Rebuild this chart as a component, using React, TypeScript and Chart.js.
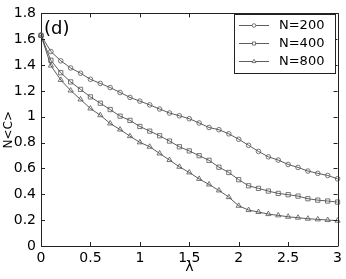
import React, { useEffect, useRef } from "react";
import { Chart, registerables } from "chart.js";
import { drawPoint } from "chart.js/helpers";

Chart.register(...registerables);

const lambda = [0, 0.1, 0.2, 0.3, 0.4, 0.5, 0.6, 0.7, 0.8, 0.9, 1.0, 1.1, 1.2, 1.3, 1.4, 1.5, 1.6, 1.7, 1.8, 1.9, 2.0, 2.1, 2.2, 2.3, 2.4, 2.5, 2.6, 2.7, 2.8, 2.9, 3.0];

const n200 = [1.63, 1.505, 1.433, 1.378, 1.337, 1.29, 1.258, 1.226, 1.188, 1.15, 1.121, 1.092, 1.06, 1.029, 1.008, 0.985, 0.952, 0.917, 0.9, 0.868, 0.826, 0.779, 0.732, 0.69, 0.665, 0.631, 0.608, 0.58, 0.562, 0.546, 0.52];
const n400 = [1.63, 1.437, 1.341, 1.27, 1.212, 1.154, 1.105, 1.056, 1.005, 0.972, 0.925, 0.889, 0.853, 0.812, 0.768, 0.736, 0.699, 0.663, 0.61, 0.569, 0.513, 0.466, 0.446, 0.425, 0.407, 0.397, 0.386, 0.366, 0.355, 0.348, 0.34];
const n800 = [1.63, 1.396, 1.285, 1.203, 1.134, 1.064, 1.012, 0.948, 0.901, 0.85, 0.802, 0.768, 0.716, 0.665, 0.613, 0.569, 0.519, 0.476, 0.43, 0.378, 0.311, 0.278, 0.263, 0.247, 0.237, 0.226, 0.219, 0.211, 0.206, 0.201, 0.196];

const seriesLabels = ["N=200", "N=400", "N=800"];
const xTicks = [0, 0.5, 1, 1.5, 2, 2.5, 3];
const xTickLabels = ["0", "0.5", "1", "1.5", "2", "2.5", "3"];
const yTicks = [0, 0.2, 0.4, 0.6, 0.8, 1, 1.2, 1.4, 1.6, 1.8];
const yTickLabels = ["0", "0.2", "0.4", "0.6", "0.8", "1", "1.2", "1.4", "1.6", "1.8"];
const panelLabel = "(d)";
const xTitle = "λ";
const yTitle = "N<C>";

const FONT = "'DejaVu Sans', sans-serif";
const LINE = "#333333";
const MARK = "#555555";
const AXIS = "#222222";

const decorPlugin = {
  id: "decor",
  afterDraw(chart: any) {
    const { ctx, chartArea } = chart;
    const xs = chart.scales.x;
    const ys = chart.scales.y;
    const { left, right, top, bottom } = chartArea;
    ctx.save();
    ctx.strokeStyle = AXIS;
    ctx.lineWidth = 1;
    ctx.beginPath();
    ctx.moveTo(Math.round(left) + 0.5, Math.round(top) + 0.5);
    ctx.lineTo(Math.round(right) + 0.5, Math.round(top) + 0.5);
    ctx.lineTo(Math.round(right) + 0.5, Math.round(bottom) + 0.5);
    ctx.stroke();
    const tl = 4;
    ctx.beginPath();
    xTicks.forEach((v) => {
      const px = Math.round(xs.getPixelForValue(v)) + 0.5;
      ctx.moveTo(px, bottom);
      ctx.lineTo(px, bottom - tl);
      ctx.moveTo(px, top);
      ctx.lineTo(px, top + tl);
    });
    yTicks.forEach((v) => {
      const py = Math.round(ys.getPixelForValue(v)) + 0.5;
      ctx.moveTo(left, py);
      ctx.lineTo(left + tl, py);
      ctx.moveTo(right, py);
      ctx.lineTo(right - tl, py);
    });
    ctx.stroke();

    ctx.fillStyle = "#000";
    ctx.font = `18px ${FONT}`;
    ctx.textAlign = "left";
    ctx.textBaseline = "alphabetic";
    ctx.fillText(panelLabel, left + 3, top + 21);

    const bx = 234.5, by = 14.5, bw = 101, bh = 59;
    ctx.fillStyle = "#fff";
    ctx.fillRect(bx, by, bw, bh);
    ctx.strokeStyle = AXIS;
    ctx.lineWidth = 1;
    ctx.strokeRect(bx, by, bw, bh);
    const rowsY = [25.5, 43.5, 61.5];
    chart.data.datasets.forEach((ds: any, i: number) => {
      const y = rowsY[i];
      ctx.strokeStyle = LINE;
      ctx.lineWidth = 0.8;
      ctx.beginPath();
      ctx.moveTo(239, y);
      ctx.lineTo(269, y);
      ctx.stroke();
      ctx.fillStyle = "#fff";
      ctx.strokeStyle = MARK;
      ctx.lineWidth = 0.8;
      drawPoint(ctx, { pointStyle: ds.pointStyle, radius: ds.pointStyle === "circle" ? 1.8 : 2.2, borderWidth: 0.8, rotation: 0 } as any, 254, y);
      ctx.fillStyle = "#000";
      ctx.font = `13px ${FONT}`;
      ctx.textAlign = "left";
      ctx.textBaseline = "middle";
      ctx.fillText(ds.label, 279, y);
    });
    ctx.restore();
  },
};

export default function App() {
  const ref = useRef<HTMLCanvasElement | null>(null);
  useEffect(() => {
    if (!ref.current) return;
    const mk = (label: string, vals: number[], style: string, r: number) => ({
      label,
      data: lambda.map((x, i) => ({ x, y: vals[i] })),
      borderColor: LINE,
      borderWidth: 0.8,
      pointStyle: style,
      pointRadius: r,
      pointBorderColor: MARK,
      pointBackgroundColor: "rgba(255,255,255,0)",
      pointBorderWidth: 0.8,
      tension: 0,
      fill: false,
      clip: false as any,
    });
    const chart = new Chart(ref.current, {
      type: "line",
      data: {
        datasets: [
          mk(seriesLabels[0], n200, "circle", 2.3),
          mk(seriesLabels[1], n400, "rect", 3),
          mk(seriesLabels[2], n800, "triangle", 3),
        ],
      },
      options: {
        animation: false,
        responsive: false,
        devicePixelRatio: 1,
        layout: { padding: { top: 13, right: 7, left: 0, bottom: 0 } },
        plugins: { legend: { display: false }, tooltip: { enabled: false } },
        scales: {
          x: {
            type: "linear",
            min: 0,
            max: 3,
            grid: { display: false, drawTicks: false },
            border: { display: true, color: AXIS, width: 1 },
            afterBuildTicks: (s: any) => {
              s.ticks = xTicks.map((v) => ({ value: v }));
            },
            afterFit: (s: any) => {
              s.height = 33;
            },
            ticks: {
              color: "#000",
              font: { family: FONT, size: 14 },
              padding: 4,
              maxRotation: 0,
              callback: (v: any) => {
                const i = xTicks.indexOf(Number(v));
                return i >= 0 ? xTickLabels[i] : "";
              },
            },
            title: { display: true, text: xTitle, color: "#000", font: { family: FONT, size: 14 }, padding: { top: 0, bottom: 3 } },
          },
          y: {
            type: "linear",
            min: 0,
            max: 1.8,
            grid: { display: false, drawTicks: false },
            border: { display: true, color: AXIS, width: 1 },
            afterBuildTicks: (s: any) => {
              s.ticks = yTicks.map((v) => ({ value: v }));
            },
            afterFit: (s: any) => {
              s.width = 41;
            },
            ticks: {
              color: "#000",
              font: { family: FONT, size: 14 },
              padding: 5,
              callback: (v: any) => {
                const i = yTicks.indexOf(Number(v));
                return i >= 0 ? yTickLabels[i] : "";
              },
            },
            title: { display: true, text: yTitle, color: "#000", font: { family: FONT, size: 12 }, padding: { top: 2, bottom: 0 } },
          },
        },
      },
      plugins: [decorPlugin],
    });
    return () => chart.destroy();
  }, []);
  return (
    <div style={{ position: "fixed", left: 0, top: 0, width: 346, height: 279, background: "#fff" }}>
      <canvas ref={ref} width={346} height={279} style={{ display: "block" }} />
    </div>
  );
}
